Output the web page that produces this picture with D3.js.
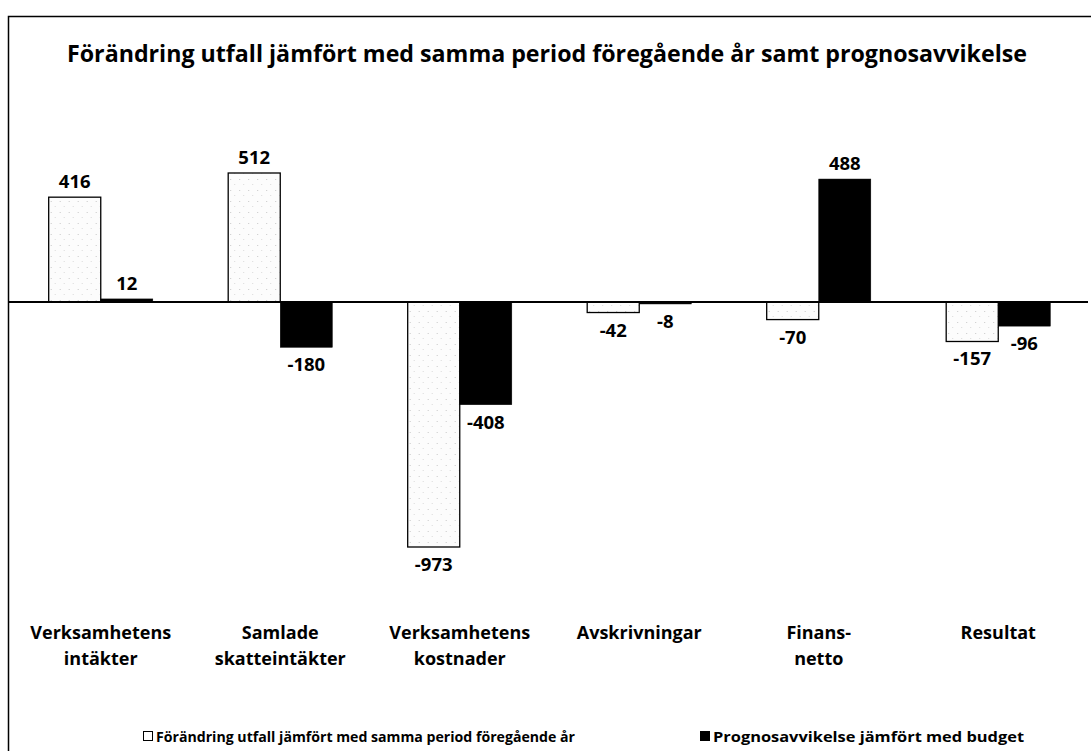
<!DOCTYPE html>
<html>
<head>
<meta charset="utf-8">
<script src="https://cdn.jsdelivr.net/npm/d3@7"></script>
<style>
  body { margin: 0; background: #fff; }
  text { font-family: "Open Sans", Lato, sans-serif; font-weight: bold; fill: #000; }
</style>
</head>
<body>
<div id="chart"></div>
<script>
const titleText = "Förändring utfall jämfört med samma period föregående år samt prognosavvikelse";
const categories = [
  ["Verksamhetens", "intäkter"],
  ["Samlade", "skatteintäkter"],
  ["Verksamhetens", "kostnader"],
  ["Avskrivningar"],
  ["Finans-", "netto"],
  ["Resultat"]
];
const utfall = [416, 512, -973, -42, -70, -157];
const prognos = [12, -180, -408, -8, 488, -96];
const seriesNames = [
  "Förändring utfall jämfört med samma period föregående år",
  "Prognosavvikelse jämfört med budget"
];

const W = 1091, H = 751;
const svg = d3.select("#chart").append("svg")
  .attr("width", W).attr("height", H);

// dotted light fill for the white bars
const defs = svg.append("defs");
const pat = defs.append("pattern")
  .attr("id", "dots")
  .attr("patternUnits", "userSpaceOnUse")
  .attr("width", 9).attr("height", 11);
pat.append("rect").attr("width", 9).attr("height", 11).attr("fill", "#fcfcfc");
pat.append("rect").attr("x", 2).attr("y", 3).attr("width", 1).attr("height", 1).attr("fill", "#c8c8c8");
pat.append("rect").attr("x", 6).attr("y", 8).attr("width", 1).attr("height", 1).attr("fill", "#dadada");

// frame (right and bottom edges fall outside the picture)
svg.append("rect")
  .attr("x", 8.5).attr("y", 16.5)
  .attr("width", W + 20).attr("height", H + 20)
  .attr("fill", "none").attr("stroke", "#000").attr("stroke-width", 1.5);

svg.append("text")
  .attr("x", 547).attr("y", 62)
  .attr("text-anchor", "middle")
  .attr("font-size", 23.5)
  .attr("textLength", 960)
  .attr("lengthAdjust", "spacingAndGlyphs")
  .text(titleText);

const x = d3.scaleBand()
  .domain(d3.range(categories.length))
  .range([11, 1088])
  .paddingInner(0.42)
  .paddingOuter(0.21);

const xs = d3.scaleBand()
  .domain([0, 1])
  .range([0, x.bandwidth()]);

const y = d3.scaleLinear()
  .domain([-973, 512])
  .range([547, 173]);

const rows = categories.map((c, i) => ({ i, vals: [utfall[i], prognos[i]] }));

const groups = svg.selectAll("g.grp")
  .data(rows)
  .join("g")
  .attr("class", "grp")
  .attr("transform", d => `translate(${x(d.i)},0)`);

const bars = groups.selectAll("g.bar")
  .data(d => d.vals.map((v, s) => ({ v, s })))
  .join("g")
  .attr("class", "bar");

bars.append("rect")
  .attr("x", d => xs(d.s))
  .attr("y", d => y(Math.max(0, d.v)))
  .attr("width", xs.bandwidth())
  .attr("height", d => Math.abs(y(d.v) - y(0)))
  .attr("fill", d => d.s === 0 ? "url(#dots)" : "#000")
  .attr("stroke", "#000")
  .attr("stroke-width", d => d.s === 0 ? 1.3 : 0.5);

bars.append("text")
  .attr("x", d => xs(d.s) + xs.bandwidth() / 2)
  .attr("y", d => d.v >= 0 ? y(d.v) - 9 : y(d.v) + 24)
  .attr("text-anchor", "middle")
  .attr("font-size", 18.5)
  .text(d => d.v);

// zero line
svg.append("line")
  .attr("x1", 8).attr("x2", 1088)
  .attr("y1", y(0)).attr("y2", y(0))
  .attr("stroke", "#000").attr("stroke-width", 2);

// category labels
const lab = svg.selectAll("text.cat")
  .data(categories)
  .join("text")
  .attr("class", "cat")
  .attr("text-anchor", "middle")
  .attr("font-size", 18)
  .attr("x", (d, i) => x(i) + x.bandwidth() / 2)
  .attr("y", 639);
lab.selectAll("tspan")
  .data(d => d)
  .join("tspan")
  .attr("x", function() { return d3.select(this.parentNode).attr("x"); })
  .attr("dy", (d, j) => j === 0 ? 0 : 26)
  .text(d => d);

// legend
const legend = [
  { x: 143, fill: "#fff", name: seriesNames[0], tl: 419 },
  { x: 700, fill: "#000", name: seriesNames[1], tl: 311 }
];
const lg = svg.selectAll("g.leg")
  .data(legend)
  .join("g")
  .attr("class", "leg")
  .attr("transform", d => `translate(${d.x},742)`);
lg.append("rect")
  .attr("x", 0.5).attr("y", -10.5)
  .attr("width", 9).attr("height", 9)
  .attr("fill", d => d.fill)
  .attr("stroke", "#000").attr("stroke-width", 1);
lg.append("text")
  .attr("x", 13).attr("y", 0)
  .attr("font-size", 15)
  .attr("textLength", d => d.tl)
  .attr("lengthAdjust", "spacingAndGlyphs")
  .text(d => d.name);
</script>
</body>
</html>
